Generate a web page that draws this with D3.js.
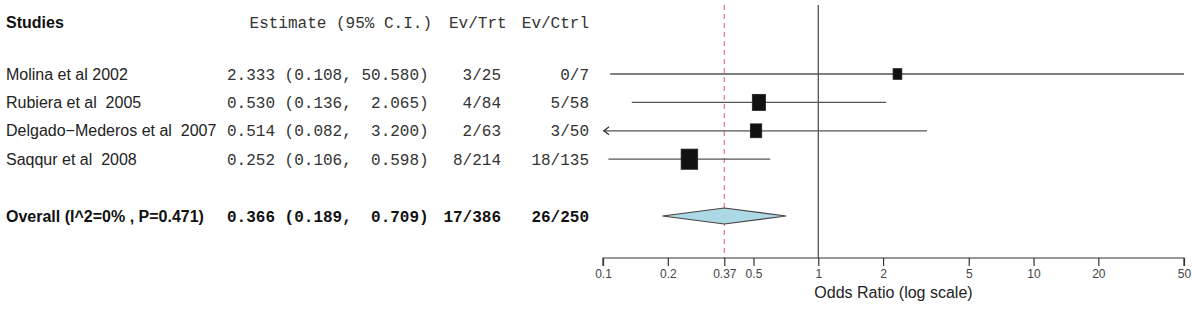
<!DOCTYPE html>
<html>
<head>
<meta charset="utf-8">
<script src="https://cdn.jsdelivr.net/npm/d3@7"></script>
<style>
  html, body { margin: 0; padding: 0; background: #fff; }
  svg { display: block; }
  text { white-space: pre; }
</style>
</head>
<body>
<svg id="chart" width="1192" height="318"></svg>
<script>
// ---------------- data ----------------
const studies = ["Molina et al 2002", "Rubiera et al  2005", "Delgado\u2212Mederos et al  2007", "Saqqur et al  2008"];
const estimates = [2.333, 0.530, 0.514, 0.252];
const lowers = [0.108, 0.136, 0.082, 0.106];
const uppers = [50.580, 2.065, 3.200, 0.598];
const evTrt = ["3/25", "4/84", "2/63", "8/214"];
const evCtrl = ["0/7", "5/58", "3/50", "18/135"];

const overallLabel = "Overall (I^2=0% , P=0.471)";
const overallEst = 0.366;
const overallLower = 0.189;
const overallUpper = 0.709;
const overallEvTrt = "17/386";
const overallEvCtrl = "26/250";

const headers = ["Studies", "Estimate (95% C.I.)", "Ev/Trt", "Ev/Ctrl"];
const tickValues = [0.1, 0.2, 0.366, 0.5, 1, 2, 5, 10, 20, 50];
const tickLabels = ["0.1", "0.2", "0.37", "0.5", "1", "2", "5", "10", "20", "50"];
const axisTitle = "Odds Ratio (log scale)";

// ---------------- layout ----------------
const svg = d3.select("#chart");
const sans = "'Liberation Sans', Arial, sans-serif";
const mono = "'Liberation Mono', 'DejaVu Sans Mono', monospace";

const x = d3.scaleLog().domain([0.1, 50]).range([603, 1184]);
const y = d3.scaleLinear().domain([0, 1]).range([74, 102.4]);
const headerRow = -1.82;
const overallRow = 5;
const axisY = 258;
const topY = 5;

const fmt = (e, l, u) => e.toFixed(3) + " (" + l.toFixed(3) + ", " + u.toFixed(3).padStart(6, " ") + ")";

// weights from CI (inverse variance on log scale)
const weights = lowers.map((l, i) => {
  const se = (Math.log(uppers[i]) - Math.log(l)) / (2 * 1.959964);
  return 1 / (se * se);
});
const boxH = d3.scalePow().exponent(0.25).domain([0, 1]).range([0, 13.4]);
const boxW = d3.scalePow().exponent(0.25).domain([0, 1]).range([0, 11]);

// ---------------- text columns ----------------
const colStudyX = 6, colEstX = 227, colTrtRight = 501, colCtrlRight = 589;

const g = svg.append("g");

// headers
g.append("text").attr("x", colStudyX).attr("y", y(headerRow)).attr("dy", "0.35em")
  .attr("font-family", sans).attr("font-size", 16).attr("font-weight", "bold").attr("fill", "#111")
  .text(headers[0]);
g.append("text").attr("x", 432).attr("y", y(headerRow)).attr("dy", "0.35em").attr("text-anchor", "end")
  .attr("font-family", mono).attr("font-size", 16).attr("fill", "#333")
  .text(headers[1]);
g.append("text").attr("x", 449).attr("y", y(headerRow)).attr("dy", "0.35em")
  .attr("font-family", mono).attr("font-size", 16).attr("fill", "#333")
  .text(headers[2]);
g.append("text").attr("x", colCtrlRight).attr("y", y(headerRow)).attr("dy", "0.35em").attr("text-anchor", "end")
  .attr("font-family", mono).attr("font-size", 16).attr("fill", "#333")
  .text(headers[3]);

// study rows
const rows = g.selectAll("g.row").data(studies).join("g").attr("class", "row")
  .attr("transform", (d, i) => `translate(0,${y(i)})`);
rows.append("text").attr("x", colStudyX).attr("dy", "0.35em")
  .attr("font-family", sans).attr("font-size", 16).attr("fill", "#222").text(d => d);
rows.append("text").attr("x", colEstX).attr("dy", "0.35em")
  .attr("font-family", mono).attr("font-size", 16).attr("fill", "#333")
  .text((d, i) => fmt(estimates[i], lowers[i], uppers[i]));
rows.append("text").attr("x", colTrtRight).attr("dy", "0.35em").attr("text-anchor", "end")
  .attr("font-family", mono).attr("font-size", 16).attr("fill", "#333")
  .text((d, i) => evTrt[i]);
rows.append("text").attr("x", colCtrlRight).attr("dy", "0.35em").attr("text-anchor", "end")
  .attr("font-family", mono).attr("font-size", 16).attr("fill", "#333")
  .text((d, i) => evCtrl[i]);

// overall row
const og = g.append("g").attr("transform", `translate(0,${y(overallRow)})`);
og.append("text").attr("x", colStudyX).attr("dy", "0.35em")
  .attr("font-family", sans).attr("font-size", 16).attr("font-weight", "bold").attr("fill", "#111").text(overallLabel);
og.append("text").attr("x", colEstX).attr("dy", "0.35em")
  .attr("font-family", mono).attr("font-size", 16).attr("font-weight", "bold").attr("fill", "#111")
  .text(fmt(overallEst, overallLower, overallUpper));
og.append("text").attr("x", colTrtRight).attr("dy", "0.35em").attr("text-anchor", "end")
  .attr("font-family", mono).attr("font-size", 16).attr("font-weight", "bold").attr("fill", "#111").text(overallEvTrt);
og.append("text").attr("x", colCtrlRight).attr("dy", "0.35em").attr("text-anchor", "end")
  .attr("font-family", mono).attr("font-size", 16).attr("font-weight", "bold").attr("fill", "#111").text(overallEvCtrl);

// ---------------- plot ----------------
const p = svg.append("g");

// reference line at 1
p.append("line").attr("x1", x(1)).attr("x2", x(1)).attr("y1", topY).attr("y2", axisY)
  .attr("stroke", "#444").attr("stroke-width", 1.2);
// dashed summary line
p.append("line").attr("x1", x(overallEst)).attr("x2", x(overallEst)).attr("y1", topY).attr("y2", axisY)
  .attr("stroke", "#e8767a").attr("stroke-width", 1.2).attr("stroke-dasharray", "5,4");

const dom = x.domain();
// CI lines
studies.forEach((s, i) => {
  const yy = y(i);
  const lo = Math.max(lowers[i], dom[0]);
  const hi = Math.min(uppers[i], dom[1]);
  p.append("line").attr("x1", x(lo)).attr("x2", x(hi)).attr("y1", yy).attr("y2", yy)
    .attr("stroke", "#555").attr("stroke-width", 1.3);
  if (lowers[i] < dom[0]) {
    const x0 = x(dom[0]) + 1;
    p.append("path").attr("d", `M${x0 + 5},${yy - 4}L${x0},${yy}L${x0 + 5},${yy + 4}`)
      .attr("fill", "none").attr("stroke", "#333").attr("stroke-width", 1.3);
  }
  const w = boxW(weights[i]), h = boxH(weights[i]);
  p.append("rect").attr("x", x(estimates[i]) - w / 2).attr("y", yy - h / 2)
    .attr("width", w).attr("height", h).attr("fill", "#111").attr("stroke", "#222").attr("stroke-width", 0.8);
});

// diamond
const yo = y(overallRow);
const dh = 8;
p.append("path")
  .attr("d", `M${x(overallLower)},${yo}L${x(overallEst)},${yo - dh}L${x(overallUpper)},${yo}L${x(overallEst)},${yo + dh}Z`)
  .attr("fill", "#add8e6").attr("stroke", "#444").attr("stroke-width", 1.2);

// axis
const axis = d3.axisBottom(x).tickValues(tickValues).tickFormat((d, i) => tickLabels[i]).tickSize(8).tickPadding(3);
const ag = svg.append("g").attr("transform", `translate(0,${axisY})`).call(axis);
ag.select(".domain").attr("stroke", "#333").attr("stroke-width", 1.2).attr("d", `M${x(dom[0])},8V0H${x(dom[1])}V8`);
ag.selectAll(".tick line").attr("stroke", "#333").attr("stroke-width", 1.2);
ag.selectAll(".tick text").attr("font-family", sans).attr("font-size", 12).attr("fill", "#444");

svg.append("text").attr("x", (x(0.1) + x(50)) / 2).attr("y", 292).attr("dy", "0.35em")
  .attr("text-anchor", "middle").attr("font-family", sans).attr("font-size", 16).attr("fill", "#222")
  .text(axisTitle);
</script>
</body>
</html>
